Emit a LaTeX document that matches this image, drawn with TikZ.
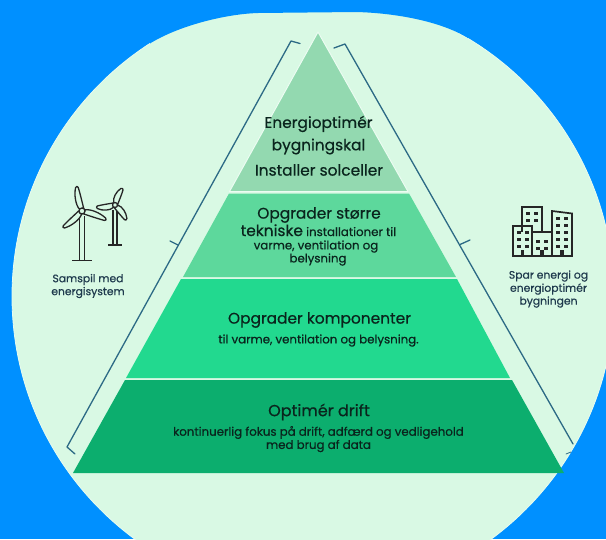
\documentclass[tikz,border=0pt]{standalone}
\usepackage{fontspec}
\setmainfont{Poppins}[FakeBold=0.55]
\definecolor{bluebg}{HTML}{0090FF}
\definecolor{pale}{HTML}{D9F9E4}
\definecolor{lay1}{HTML}{93D9B0}
\definecolor{lay2}{HTML}{5DD89C}
\definecolor{lay3}{HTML}{22D98F}
\definecolor{lay4}{HTML}{0CAE6E}
\definecolor{brk}{HTML}{2C6A85}
\definecolor{ink}{HTML}{0A241D}
\definecolor{slate}{HTML}{1F3A4D}
\tikzset{
  bigtxt/.style={font=\fontsize{15.4}{16}\selectfont,text=ink,inner sep=0pt,anchor=center},
  smalltxt/.style={font=\fontsize{11.8}{13}\selectfont,text=ink,inner sep=0pt,anchor=center},
  sidetxt/.style={font=\fontsize{10.8}{12}\selectfont,text=slate,inner sep=0pt,anchor=center},
  bracket/.style={draw=brk,line width=1.3pt,line join=round,line cap=round},
  icon/.style={draw=black!85,line width=1.3pt,line join=round},
  icontwo/.style={draw=black!85,line width=1.7pt,line join=miter},
  dotwin/.style={fill=black!85,draw=none}
}
\newcommand{\myblade}[4]{\begin{scope}[shift={(#1,#2)},rotate=#3,xscale=#4]
 \draw[icon,fill=pale,x=1pt] (0.1,-2.2) .. controls (0.3,-5) and (0.7,-4.4) .. (0.97,-1.4) .. controls (1.02,-0.4) and (1.02,0.9) .. (0.95,1.2) .. controls (0.7,1.8) and (0.3,2) .. (0.1,2.2) -- cycle;
\end{scope}}
\newcommand{\mywin}[2]{\fill[dotwin] (#1-1.7,#2-1.5) rectangle (#1+1.7,#2+1.5);}
\begin{document}
\begin{tikzpicture}[x=1pt,y=-1pt]
\useasboundingbox (0,0) rectangle (606,539);
\fill[bluebg] (0,0) rectangle (606,539);
\begin{scope}
\clip (0,0) rectangle (606,539);
\fill[pale,draw=pale!60!white,line width=0.8pt] (313,296.5) circle (301);
\fill[bluebg] (150,43.5) .. controls (178,26) and (225,14) .. (258,13) -- (356,12) .. controls (395,13) and (440,21) .. (468,38) -- (468,-20) -- (150,-20) -- cycle;
\end{scope}
% pyramid
\path[fill=lay1,draw=pale!50!white,line width=1pt,line join=round] (318,32) -- (408,191.5) -- (229.5,191.5) -- cycle;
\path[fill=lay2] (229,193.5) -- (409,193.5) -- (456,277) -- (183,277) -- cycle;
\path[fill=lay3] (181,279) -- (457,279) -- (510,378) -- (126,378) -- cycle;
\path[fill=lay4] (125,380) -- (512,380) -- (564,473) -- (73,473) -- cycle;
% brackets
\coordinate (bl1) at (300,43.5);
\coordinate (bl2) at (291,41);
\coordinate (bl3) at (67,447);
\coordinate (bl4) at (75,454);
\draw[bracket] (bl1) -- (bl2) -- (bl3) -- (bl4);
\coordinate (blt) at (170,241);
\coordinate (blb) at (178,245);
\draw[bracket] (blt) -- (blb);
\coordinate (br1) at (334,48);
\coordinate (br2) at (345,44);
\coordinate (br3) at (573,444);
\draw[bracket] (br1) -- (br2) -- (br3);
\coordinate (brt) at (470,240);
\coordinate (brb) at (460,244.5);
\draw[bracket] (brt) -- (brb);
\coordinate (brs1) at (566,454);
\coordinate (brs2) at (571,452);
\draw[bracket,line width=0.8pt] (brs1) -- (brs2);
% labels
\node[bigtxt] (t1) at (318.5,124) {Energioptimér};
\node[bigtxt] (t2) at (318.5,146.5) {bygningskal};
\node[bigtxt] (t3) at (319,170) {Installer solceller};
\node[bigtxt] (t4) at (319,215) {Opgrader større};
\node[bigtxt,anchor=base west] (t5a) at (240.5,236) {tekniske};
\node[smalltxt,anchor=base west] (t5b) at (306,236) {installationer til};
\node[smalltxt] (t6) at (316,246.5) {varme, ventilation og};
\node[smalltxt] (t7) at (318,259.5) {belysning};
\node[bigtxt] (t8) at (319.5,320) {Opgrader komponenter};
\node[smalltxt] (t9) at (318.5,340.5) {til varme, ventilation og belysning.};
\node[bigtxt,font=\fontsize{16}{17}\selectfont] (t10) at (319,412) {Optimér drift};
\node[smalltxt] (t11) at (318.5,432.5) {kontinuerlig fokus på drift, adfærd og vedligehold};
\node[smalltxt] (t12) at (318.5,446) {med brug af data};
\node[sidetxt] (s1) at (88,279.5) {Samspil med};
\node[sidetxt] (s2) at (88,292.5) {energisystem};
\node[sidetxt] (s3) at (548.5,276) {Spar energi og};
\node[sidetxt] (s4) at (548.5,289) {energioptimér};
\node[sidetxt] (s5) at (548.5,302) {bygningen};
% turbines
\draw[icon] (79.5,216) -- (79.5,260) (84.5,216) -- (84.5,260);
\draw[icon] (72,260.5) -- (92,260.5);
\draw[icon] (113,210) -- (113,245) (117,210) -- (117,245);
\draw[icon] (108,245) -- (122,245);
\myblade{82}{211}{102}{25}
\myblade{82}{211}{-20}{25.5}
\myblade{82}{211}{221}{25}
\draw[icon,fill=pale] (82,211) circle (3);
\myblade{115}{205}{66}{18}
\myblade{115}{205}{187}{18.5}
\myblade{115}{205}{-53}{18.5}
\draw[icon,fill=pale] (115,205) circle (2.5);
% buildings
\draw[icontwo] (522,232) -- (522,207) -- (542,207) -- (542,232);
\draw[icontwo] (513,256) rectangle (532,226);
\draw[icontwo] (532,232) rectangle (552,256);
\draw[icontwo] (552,256) -- (552,211) -- (572,213.5) -- (572,256) -- cycle;
\foreach \x/\y in {528/213,536/213,528/220,536/220,
  519/232,527/232,519/239,527/239,519/246,527/246,
  538/241,546/241,538/248,546/248,
  558/218,566/218,558/225,566/225,558/232,566/232,558/239,566/239,558/246,566/246}{\mywin{\x}{\y}}
\foreach \x in {522.5,542,562}{\fill[dotwin] (\x-1.7,250) rectangle (\x+1.7,256);}
\end{tikzpicture}
\end{document}
